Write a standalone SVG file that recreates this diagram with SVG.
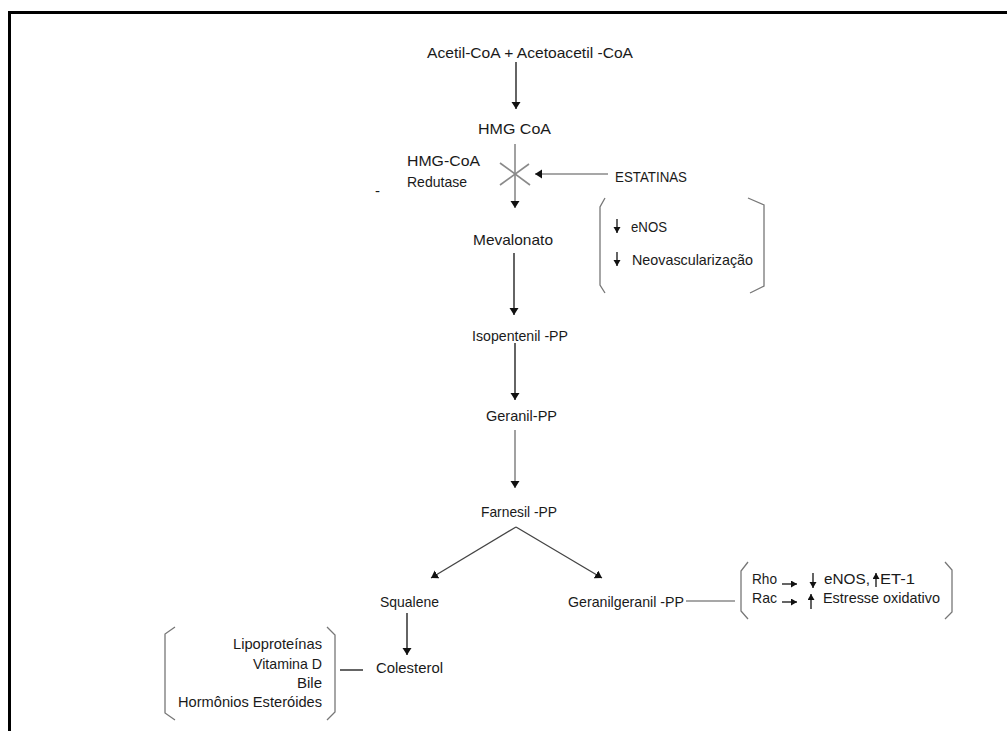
<svg xmlns="http://www.w3.org/2000/svg" width="1007" height="731" viewBox="0 0 1007 731">
<defs>
<style>
text{font-family:"Liberation Sans",Arial,sans-serif;font-size:15px;fill:#1a1a1a}
.blk{stroke:#111;stroke-width:1.3;fill:none}
.gry{stroke:#8a8a8a;stroke-width:1.6;fill:none}
.dk{stroke:#444;stroke-width:1.3;fill:none}
.brk{stroke:#777;stroke-width:1.3;fill:none}
.sm{stroke:#111;stroke-width:1.3;fill:none}
</style>
<marker id="ah" markerUnits="userSpaceOnUse" markerWidth="10" markerHeight="10" refX="7" refY="4.5" orient="auto">
<path d="M0,0 L7,4.5 L0,9 z" fill="#111"/>
</marker>
<marker id="as" markerUnits="userSpaceOnUse" markerWidth="8" markerHeight="8" refX="6" refY="3.5" orient="auto">
<path d="M0,0 L6,3.5 L0,7 z" fill="#111"/>
</marker>
</defs>
<rect width="1007" height="731" fill="#fff"/>
<path d="M9.5,731 V12.5 H1007" fill="none" stroke="#000" stroke-width="3"/>

<g id="connectors">
<line class="blk" x1="516" y1="62" x2="516" y2="109" marker-end="url(#ah)"/>
<line class="gry" x1="515" y1="144" x2="515" y2="208" marker-end="url(#ah)"/>
<line class="gry" x1="608" y1="174" x2="535" y2="174" marker-end="url(#ah)"/>
<line class="blk" x1="514" y1="253" x2="514" y2="315" marker-end="url(#ah)"/>
<line class="blk" x1="515" y1="343" x2="515" y2="400" marker-end="url(#ah)"/>
<line class="gry" x1="515" y1="430" x2="515" y2="488" marker-end="url(#ah)"/>
<line class="dk" x1="516" y1="527" x2="431" y2="578" marker-end="url(#ah)"/>
<line class="dk" x1="516" y1="527" x2="602" y2="578" marker-end="url(#ah)"/>
<line class="blk" x1="407" y1="613" x2="407" y2="655" marker-end="url(#ah)"/>
<line class="gry" x1="686" y1="601" x2="735" y2="601"/>
<line class="blk" x1="340" y1="670" x2="363" y2="670"/>
</g>

<g id="inhibition">
<line class="gry" x1="500" y1="163" x2="530" y2="185"/>
<line class="gry" x1="500" y1="185" x2="529" y2="164"/>
</g>

<g id="n-acetil"><text x="427" y="58" textLength="206" lengthAdjust="spacingAndGlyphs">Acetil-CoA + Acetoacetil -CoA</text></g>
<g id="n-hmgcoa"><text x="478" y="134" textLength="73" lengthAdjust="spacingAndGlyphs">HMG  CoA</text></g>
<g id="n-reductase">
<text x="407" y="166" textLength="73" lengthAdjust="spacingAndGlyphs">HMG-CoA</text>
<text x="407" y="187" textLength="60" lengthAdjust="spacingAndGlyphs">Redutase</text>
</g>
<g id="n-dash"><text x="375" y="196">-</text></g>
<g id="n-estatinas"><text x="615" y="182" textLength="72" lengthAdjust="spacingAndGlyphs">ESTATINAS</text></g>
<g id="n-efeitos1">
<path class="brk" d="M605,198 L600,207 V285 L605,293"/>
<path class="brk" d="M748,198 L764,205 V286 L750,293"/>
<line class="sm" x1="617" y1="219" x2="617" y2="233" marker-end="url(#as)"/>
<text x="631" y="232" textLength="36" lengthAdjust="spacingAndGlyphs">eNOS</text>
<line class="sm" x1="617" y1="252" x2="617" y2="266" marker-end="url(#as)"/>
<text x="632" y="265" textLength="121" lengthAdjust="spacingAndGlyphs">Neovascularização</text>
</g>
<g id="n-mevalonato"><text x="473" y="245" textLength="80" lengthAdjust="spacingAndGlyphs">Mevalonato</text></g>
<g id="n-isopentenil"><text x="472" y="341" textLength="96" lengthAdjust="spacingAndGlyphs">Isopentenil -PP</text></g>
<g id="n-geranil"><text x="486" y="421" textLength="71" lengthAdjust="spacingAndGlyphs">Geranil-PP</text></g>
<g id="n-farnesil"><text x="481" y="517" textLength="76" lengthAdjust="spacingAndGlyphs">Farnesil -PP</text></g>
<g id="n-squalene"><text x="380" y="607" textLength="59" lengthAdjust="spacingAndGlyphs">Squalene</text></g>
<g id="n-geranilgeranil"><text x="568" y="607" textLength="116" lengthAdjust="spacingAndGlyphs">Geranilgeranil -PP</text></g>
<g id="n-efeitos2">
<path class="brk" d="M748,562 L741,571 V611 L748,619"/>
<path class="brk" d="M945,562 L952,570 V612 L945,619"/>
<text x="752" y="584" textLength="25" lengthAdjust="spacingAndGlyphs">Rho</text>
<text x="752" y="603" textLength="25" lengthAdjust="spacingAndGlyphs">Rac</text>
<line class="sm" x1="782" y1="584" x2="797" y2="584" marker-end="url(#as)"/>
<line class="sm" x1="782" y1="602" x2="797" y2="602" marker-end="url(#as)"/>
<line class="sm" x1="813" y1="573" x2="813" y2="588" marker-end="url(#as)"/>
<text x="824" y="584" textLength="46" lengthAdjust="spacingAndGlyphs">eNOS,</text>
<line class="sm" x1="876" y1="587" x2="876" y2="573" marker-end="url(#as)"/>
<text x="880" y="584" textLength="35" lengthAdjust="spacingAndGlyphs">ET-1</text>
<line class="sm" x1="811" y1="609" x2="811" y2="594" marker-end="url(#as)"/>
<text x="823" y="603" textLength="117" lengthAdjust="spacingAndGlyphs">Estresse oxidativo</text>
</g>
<g id="n-colesterol"><text x="376" y="673" textLength="67" lengthAdjust="spacingAndGlyphs">Colesterol</text></g>
<g id="n-produtos">
<path class="brk" d="M175,627 L165,634 V713 L175,720"/>
<path class="brk" d="M327,627 L335,635 V712 L327,720"/>
<text x="322" y="649" text-anchor="end" textLength="89" lengthAdjust="spacingAndGlyphs">Lipoproteínas</text>
<text x="322" y="669" text-anchor="end" textLength="69" lengthAdjust="spacingAndGlyphs">Vitamina D</text>
<text x="322" y="688" text-anchor="end">Bile</text>
<text x="322" y="707" text-anchor="end" textLength="144" lengthAdjust="spacingAndGlyphs">Hormônios Esteróides</text>
</g>
</svg>
